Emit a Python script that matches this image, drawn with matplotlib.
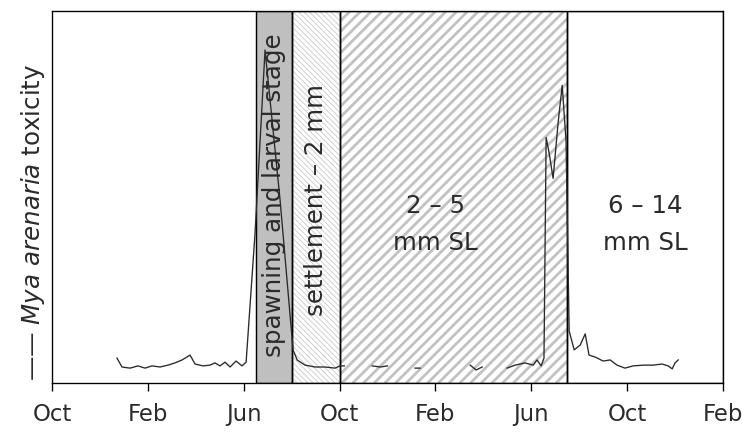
import numpy as np
import matplotlib
matplotlib.use("Agg")
import matplotlib.pyplot as plt
from matplotlib.patches import Rectangle
from matplotlib.collections import LineCollection
from matplotlib.transforms import IdentityTransform

# ---- data (months since first October) ----
month = [2.71, 2.92, 3.26, 3.59, 3.88, 4.17, 4.51, 4.84, 5.13, 5.43, 5.76, 5.97,
         6.30, 6.59, 6.80, 7.01, 7.22, 7.43, 7.68, 7.93, 8.10, 8.47, 8.89, 9.52,
         10.06, 10.23, 10.56, 10.98, 11.39, 11.81, 12.02, 12.20, 12.3,
         13.36, 13.70, 14.00, 14.1,
         15.15, 15.36, 15.4,
         17.45, 17.70, 17.95, 18.0,
         18.99, 19.32, 19.74, 20.08, 20.24, 20.41, 20.53, 20.62, 20.74, 20.91,
         21.12, 21.29, 21.45, 21.58, 21.79, 22.04, 22.25, 22.41, 22.66, 23.00,
         23.29, 23.58, 23.91, 24.25, 24.67, 25.08, 25.46, 25.71, 25.88, 26.00, 26.13]
toxicity = [6.7, 4.3, 4.0, 4.6, 4.0, 4.6, 4.3, 4.8, 5.4, 6.2, 7.5, 5.1,
            4.6, 4.8, 5.4, 4.6, 5.6, 4.3, 5.9, 4.6, 5.6, 40.0, 89.5, 49.0,
            8.9, 6.2, 4.8, 4.3, 4.3, 4.0, 4.6, 4.6, np.nan,
            4.6, 4.3, 4.6, np.nan,
            4.0, 4.0, np.nan,
            4.8, 3.5, 4.3, np.nan,
            4.0, 4.8, 5.4, 4.8, 6.2, 4.6, 6.7, 66.0, 62.0, 55.0,
            70.0, 80.0, 65.0, 14.0, 8.9, 10.2, 13.2, 7.5, 7.0, 5.9,
            6.2, 4.8, 4.0, 4.6, 4.8, 4.8, 5.1, 4.6, 3.8, 5.4, 6.2]

tick_pos = [0, 4, 8, 12, 16, 20, 24, 28]
tick_labels = ["Oct", "Feb", "Jun", "Oct", "Feb", "Jun", "Oct", "Feb"]

stage_start = [8.5, 10.0, 12.0, 21.5]
stage_end = [10.0, 12.0, 21.5, 28.0]
stage_label = ["spawning and larval stage", "settlement \u2013 2 mm",
               "2 \u2013 5\nmm SL", "6 \u2013 14\nmm SL"]

DPI = 80
fig = plt.figure(figsize=(743 / DPI, 435 / DPI), dpi=DPI)
ax = fig.add_axes([52 / 743, 52 / 435, (723 - 52) / 743, (383 - 11) / 435])
ax.set_xlim(0, 28)
ax.set_ylim(0, 100)

fs = 22
tc = "#2a2a2a"

def add_rect(x0, x1, **kw):
    r = Rectangle((x0, 0), x1 - x0, 100, **kw)
    ax.add_patch(r)
    return r

def stripes(x0, x1, step_px, rising, color, lw, clip):
    (px0, py0) = ax.transData.transform((x0, 0))
    (px1, py1) = ax.transData.transform((x1, 100))
    h = py1 - py0
    segs = []
    if rising:
        for x in np.arange(px0 - h, px1 + step_px, step_px):
            segs.append([(x, py0), (x + h, py1)])
    else:
        for x in np.arange(px0, px1 + h + step_px, step_px):
            segs.append([(x, py0), (x - h, py1)])
    lc = LineCollection(segs, colors=color, linewidths=lw,
                        transform=IdentityTransform(), zorder=1.5)
    ax.add_collection(lc, autolim=False)
    lc.set_clip_path(clip)

# spawning: solid grey
add_rect(stage_start[0], stage_end[0], facecolor="#bfbfbf", edgecolor="none", zorder=1)
# settlement: fine light diagonal lines
r1 = add_rect(stage_start[1], stage_end[1], facecolor="white", edgecolor="none", zorder=1)
stripes(stage_start[1], stage_end[1], 5.4, False, "#cccccc", 0.8, r1)
# 2-5 mm: wider grey diagonal stripes
r2 = add_rect(stage_start[2], stage_end[2], facecolor="white", edgecolor="none", zorder=1)
stripes(stage_start[2], stage_end[2], 10.7, True, "#c2c2c2", 2.5, r2)

# borders
for s, e in zip(stage_start, stage_end):
    add_rect(s, e, fill=False, edgecolor="black", linewidth=1.3, zorder=2)

ax.set_xlim(0, 28)
ax.set_ylim(0, 100)

ax.plot(month, toxicity, color="#2a2a2a", linewidth=1.2, zorder=3)

# labels of stages
ax.text((stage_start[0] + stage_end[0]) / 2, 50.5, stage_label[0], rotation=90,
        ha="center", va="center", fontsize=fs, color=tc, zorder=4)
ax.text((stage_start[1] + stage_end[1]) / 2, 49.3, stage_label[1], rotation=90,
        ha="center", va="center", fontsize=fs, color=tc, zorder=4)
ax.text(16.0, 42.7, stage_label[2], ha="center", va="center", fontsize=fs,
        color=tc, linespacing=1.7, zorder=4)
ax.text(24.75, 42.7, stage_label[3], ha="center", va="center", fontsize=fs,
        color=tc, linespacing=1.7, zorder=4)

ax.set_xticks(tick_pos)
ax.set_xticklabels(tick_labels, fontsize=20.5, color=tc)
ax.set_yticks([])
ax.tick_params(axis="x", direction="out", length=7, width=1.2, pad=11)
for sp in ax.spines.values():
    sp.set_linewidth(1.2)
    sp.set_color("black")
    sp.set_zorder(5)

fig.text(33 / 743, 1 - 222 / 435, "\u2014\u2014 $\\it{Mya\\ arenaria}$ toxicity", rotation=90,
         ha="center", va="center", fontsize=fs, color=tc)

fig.savefig("out.png", dpi=DPI)
